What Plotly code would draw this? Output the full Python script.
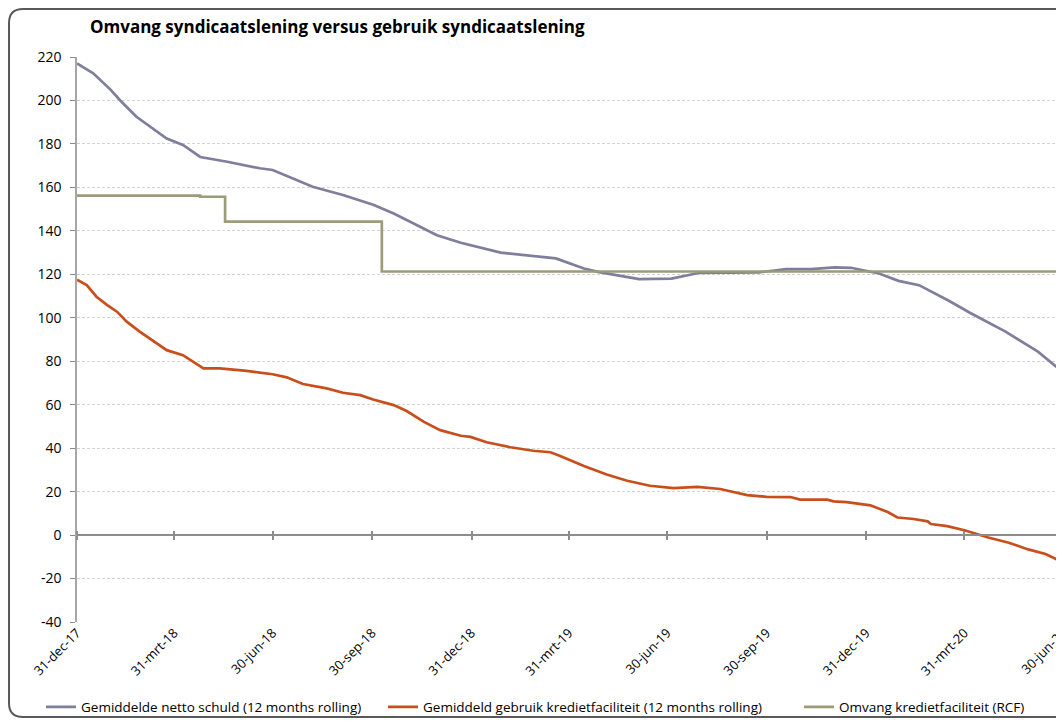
import plotly.graph_objects as go

# ---------------- data ----------------
netto_dates = ["2017-12-31", "2018-01-15", "2018-01-31", "2018-02-09", "2018-02-24", "2018-03-09",
               "2018-03-24", "2018-04-08", "2018-04-24", "2018-05-19", "2018-06-18", "2018-06-30",
               "2018-07-25", "2018-08-06", "2018-09-03", "2018-10-01", "2018-10-20", "2018-11-07",
               "2018-11-29", "2018-12-21", "2019-01-27", "2019-03-19", "2019-04-14", "2019-04-28",
               "2019-06-04", "2019-07-04", "2019-07-30", "2019-09-23", "2019-10-18", "2019-11-10",
               "2019-12-02", "2019-12-17", "2020-01-12", "2020-01-30", "2020-02-18", "2020-03-17",
               "2020-04-05", "2020-05-08", "2020-06-07", "2020-06-30"]
netto_values = [217, 212.5, 205, 200, 192.5, 188, 182.5, 179.5, 174, 171.8, 168.8, 168,
                162.6, 160.3, 156.5, 152, 148, 143.4, 138, 134.5, 130, 127.3, 122.7, 121,
                117.8, 118, 120.7, 120.9, 122.4, 122.4, 123.2, 123, 120.4, 117, 115, 107.7,
                102.3, 93.6, 84.4, 75]

gebruik_dates = ["2017-12-31", "2018-01-09", "2018-01-18", "2018-01-28", "2018-02-06", "2018-02-15",
                 "2018-02-27", "2018-03-12", "2018-03-24", "2018-04-08", "2018-04-18", "2018-04-27",
                 "2018-05-12", "2018-06-06", "2018-06-30", "2018-07-13", "2018-07-28", "2018-08-19",
                 "2018-09-03", "2018-09-19", "2018-10-01", "2018-10-20", "2018-11-01", "2018-11-17",
                 "2018-12-02", "2018-12-21", "2018-12-30", "2019-01-14", "2019-02-05", "2019-02-26",
                 "2019-03-14", "2019-03-23", "2019-04-14", "2019-05-05", "2019-05-24", "2019-06-14",
                 "2019-07-06", "2019-07-28", "2019-08-18", "2019-09-12", "2019-09-30", "2019-10-22",
                 "2019-10-31", "2019-11-25", "2019-12-01", "2019-12-13", "2020-01-04", "2020-01-20",
                 "2020-01-29", "2020-02-13", "2020-02-26", "2020-02-29", "2020-03-15", "2020-03-31",
                 "2020-04-22", "2020-05-11", "2020-05-29", "2020-06-14", "2020-06-30"]
gebruik_values = [117.5, 115, 109.7, 105.8, 102.8, 98.2, 93.6, 89, 85.1, 82.8, 79.8, 76.7,
                  76.7, 75.6, 74, 72.6, 69.5, 67.5, 65.5, 64.4, 62.4, 59.8, 57.1, 52.1,
                  48.3, 45.7, 45.2, 42.7, 40.4, 38.8, 38.1, 36.4, 31.8, 27.9, 25, 22.7,
                  21.6, 22.2, 21.2, 18.4, 17.6, 17.5, 16.3, 16.3, 15.5, 15.2, 13.7, 10.6,
                  8.1, 7.4, 6.3, 5.1, 4.1, 2.2, -1.1, -3.5, -6.6, -8.7, -12.5]

rcf_dates = ["2017-12-31", "2018-04-24", "2018-05-17", "2018-10-09", "2020-06-30"]
rcf_values = [156.2, 155.7, 144.2, 121.3, 121.3]

tick_dates = ["2017-12-31", "2018-03-31", "2018-06-30", "2018-09-30", "2018-12-31", "2019-03-31",
              "2019-06-30", "2019-09-30", "2019-12-31", "2020-03-31", "2020-06-30"]
tick_labels = ["31-dec-17", "31-mrt-18", "30-jun-18", "30-sep-18", "31-dec-18", "31-mrt-19",
               "30-jun-19", "30-sep-19", "31-dec-19", "31-mrt-20", "30-jun-20"]

y_ticks = [-40, -20, 0, 20, 40, 60, 80, 100, 120, 140, 160, 180, 200, 220]
y_tick_labels = ["-40", "-20", "0", "20", "40", "60", "80", "100", "120", "140", "160", "180", "200", "220"]

series_names = ["Gemiddelde netto schuld (12 months rolling)",
                "Gemiddeld gebruik kredietfaciliteit (12 months rolling)",
                "Omvang kredietfaciliteit (RCF)"]
colors = ["#7F7F9C", "#C84F1C", "#9C9B7A"]

FONT = "Open Sans"
AXIS_GREY = "#8C8C8C"

# figure is placed at (8,8) in the page
W, H = 1056, 718
L, T = 69, 49
PW, PH = 986, 565
R = W - L - PW
B = H - T - PH

fig = go.Figure()
fig.add_trace(go.Scatter(x=netto_dates, y=netto_values, mode="lines", name=series_names[0],
                         legend="legend", line=dict(color=colors[0], width=2.7)))
fig.add_trace(go.Scatter(x=gebruik_dates, y=gebruik_values, mode="lines", name=series_names[1],
                         legend="legend2", line=dict(color=colors[1], width=2.7)))
fig.add_trace(go.Scatter(x=rcf_dates, y=rcf_values, mode="lines", name=series_names[2],
                         legend="legend3", line=dict(color=colors[2], width=2.7, shape="hv")))

# helper invisible traces so the zero-crossing tick axes are drawn
for ax in ["x2", "x3"]:
    fig.add_trace(go.Scatter(x=[tick_dates[0]], y=[0], xaxis=ax, mode="lines",
                             showlegend=False, hoverinfo="skip", line=dict(width=0)))

pos0 = (0 - (-40)) / 260.0
x_range = ["2017-12-31", "2020-06-30 04:00"]

legend_common = dict(orientation="h", xref="container", yref="container",
                     xanchor="left", y=1 - 699 / H, yanchor="middle",
                     font=dict(size=13.5, family=FONT, color="#000000"),
                     itemwidth=30, bgcolor="rgba(0,0,0,0)")

fig.update_layout(
    width=W, height=H,
    margin=dict(l=L, r=R, t=T, b=B, autoexpand=False),
    paper_bgcolor="white", plot_bgcolor="white",
    font=dict(family=FONT, color="#000000"),
    title=dict(text="<b>Omvang syndicaatslening versus gebruik syndicaatslening</b>",
               xref="container", yref="container", x=82 / W, xanchor="left",
               y=1 - 19 / H, yanchor="middle", font=dict(size=17, family=FONT, color="#000000")),
    showlegend=True,
    legend=dict(x=33 / W, **legend_common),
    legend2=dict(x=375 / W, **legend_common),
    legend3=dict(x=791 / W, **legend_common),
    xaxis=dict(type="date", range=x_range, showgrid=False,
               showline=False, zeroline=False, ticks="",
               tickmode="array", tickvals=tick_dates, ticktext=tick_labels,
               ticklabeloverflow="allow",
               tickangle=-45, tickfont=dict(size=13, family=FONT, color="#000000")),
    xaxis2=dict(type="date", overlaying="x", matches="x", anchor="free", position=pos0,
                showgrid=False, showline=True, linecolor=AXIS_GREY, linewidth=1.5,
                ticks="outside", ticklen=4, tickwidth=1.5, tickcolor=AXIS_GREY,
                tickmode="array", tickvals=tick_dates, showticklabels=False, zeroline=False),
    xaxis3=dict(type="date", overlaying="x", matches="x", anchor="free", position=pos0,
                side="top",
                showgrid=False, showline=False,
                ticks="outside", ticklen=4, tickwidth=1.5, tickcolor=AXIS_GREY,
                tickmode="array", tickvals=tick_dates, showticklabels=False, zeroline=False),
    yaxis=dict(range=[-40, 220], tickmode="array", tickvals=y_ticks, ticktext=y_tick_labels,
               showgrid=True, gridcolor="#D3D3D3", griddash="3px,2px", gridwidth=1,
               zeroline=False, showline=True, linecolor="#A6A6A6", linewidth=1.5,
               ticks="outside", ticklen=5, tickcolor=AXIS_GREY, ticklabelstandoff=6,
               tickfont=dict(size=14, family=FONT, color="#000000")),
)

# rounded chart border (decoration), page coords -> figure coords -> paper coords
x0 = (1 - L) / PW
x1 = (W + 20 - L) / PW
y_top = (T + PH - 1) / PH
y_bot = (T + PH - 709) / PH
rx, ry = 14 / PW, 14 / PH
path = (f"M {x0+rx},{y_top} L {x1},{y_top} L {x1},{y_bot} L {x0+rx},{y_bot} "
        f"Q {x0},{y_bot} {x0},{y_bot+ry} L {x0},{y_top-ry} Q {x0},{y_top} {x0+rx},{y_top} Z")
fig.add_shape(type="path", path=path, xref="paper", yref="paper",
              line=dict(color="#595959", width=2), fillcolor="rgba(0,0,0,0)", layer="below")

fig.write_html("out.html")
